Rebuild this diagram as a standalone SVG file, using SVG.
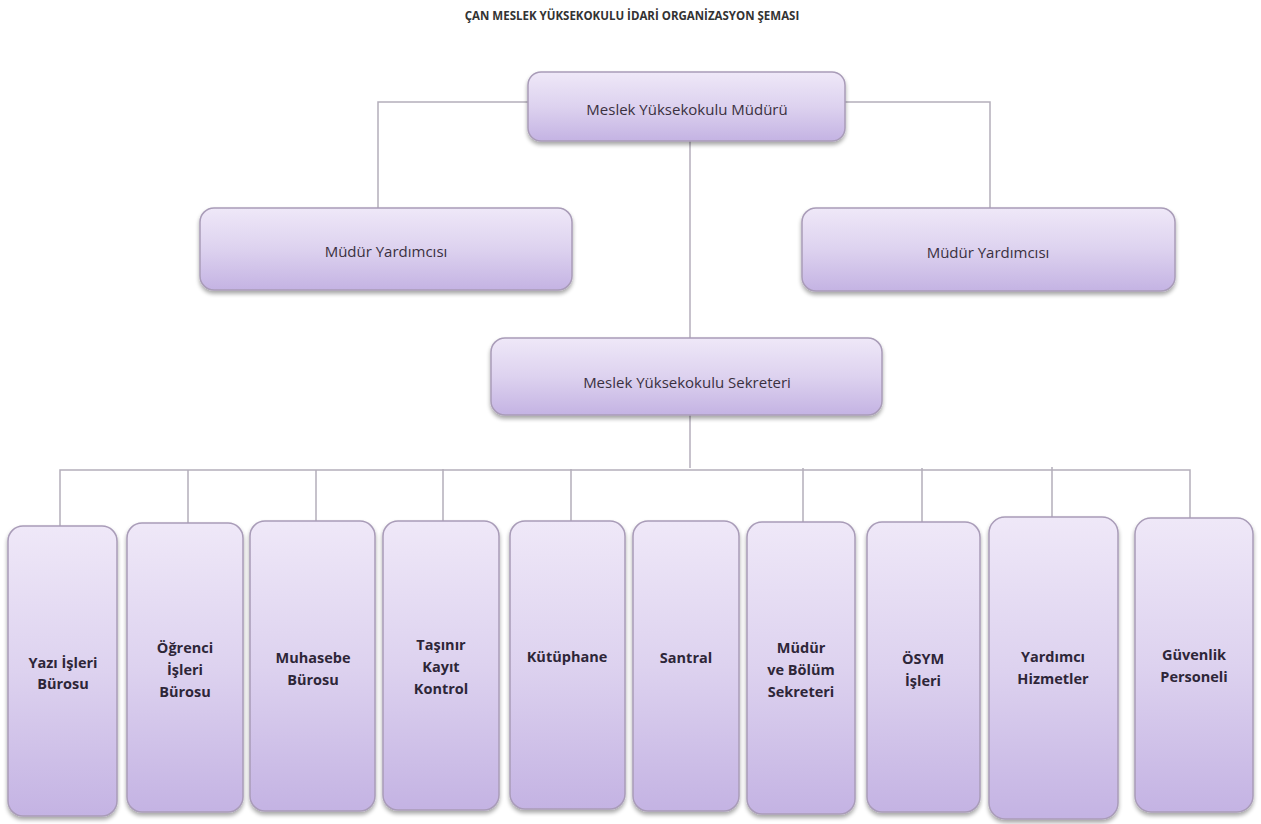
<svg xmlns="http://www.w3.org/2000/svg" width="1261" height="824" viewBox="0 0 1261 824">
<defs>
<linearGradient id="g" x1="0" y1="0" x2="0" y2="1">
<stop offset="0" stop-color="#efe8f8"/>
<stop offset="0.5" stop-color="#ddd2ef"/>
<stop offset="1" stop-color="#c4b3e3"/>
</linearGradient>
<filter id="sh" x="-10%" y="-10%" width="120%" height="125%">
<feGaussianBlur in="SourceAlpha" stdDeviation="2"/>
<feOffset dx="0" dy="3" result="b"/>
<feComponentTransfer><feFuncA type="linear" slope="0.35"/></feComponentTransfer>
<feMerge><feMergeNode/><feMergeNode in="SourceGraphic"/></feMerge>
</filter>
</defs>
<style>
.box{fill:url(#g);stroke:#a99cb8;stroke-width:1.5;filter:url(#sh)}
.t{font-family:"Open Sans","Liberation Sans",sans-serif;font-size:15px;fill:#3a3040;text-anchor:middle}
.b{font-family:"Open Sans","Liberation Sans",sans-serif;font-size:14.5px;font-weight:bold;fill:#2e2638;text-anchor:middle}
.title{font-family:"Open Sans","Liberation Sans",sans-serif;font-size:11.5px;font-weight:bold;fill:#333;text-anchor:middle}
.c{stroke:#b4aebb;stroke-width:1.5;fill:none}
</style>
<rect width="1261" height="824" fill="#ffffff"/>
<text class="title" x="632" y="20">ÇAN MESLEK YÜKSEKOKULU İDARİ ORGANİZASYON ŞEMASI</text>
<g id="connectors">
<path class="c" d="M378 208 V102 H528 M845 102 H990 V208"/>
<path class="c" d="M690 141 V338"/>
<path class="c" d="M690 415 V468"/>
<path class="c" d="M60 526 V470 H1190 V518"/>
<path class="c" d="M188 470 V523 M316 470 V521 M443 469 V521 M571 469 V521 M803 468 V522 M922 468 V522 M1052 467 V517"/>
</g>
<g id="n-mudur"><rect class="box" x="528" y="72" width="317" height="69" rx="13"/><text class="t" x="687" y="115">Meslek Yüksekokulu Müdürü</text></g>
<g id="n-yard1"><rect class="box" x="200" y="208" width="372" height="82" rx="14"/><text class="t" x="386" y="257">Müdür Yardımcısı</text></g>
<g id="n-yard2"><rect class="box" x="802" y="208" width="373" height="83" rx="14"/><text class="t" x="988" y="258">Müdür Yardımcısı</text></g>
<g id="n-sekreter"><rect class="box" x="491" y="338" width="391" height="77" rx="14"/><text class="t" x="687" y="388">Meslek Yüksekokulu Sekreteri</text></g>
<g id="n1"><rect class="box" x="8" y="526" width="109" height="290" rx="15"/><text class="b" x="63" y="668">Yazı İşleri</text><text class="b" x="63" y="689">Bürosu</text></g>
<g id="n2"><rect class="box" x="127" y="523" width="116" height="289" rx="15"/><text class="b" x="185" y="653">Öğrenci</text><text class="b" x="185" y="675">İşleri</text><text class="b" x="185" y="697">Bürosu</text></g>
<g id="n3"><rect class="box" x="250" y="521" width="125" height="290" rx="15"/><text class="b" x="313" y="663">Muhasebe</text><text class="b" x="313" y="685">Bürosu</text></g>
<g id="n4"><rect class="box" x="383" y="521" width="116" height="289" rx="15"/><text class="b" x="441" y="650">Taşınır</text><text class="b" x="441" y="672">Kayıt</text><text class="b" x="441" y="694">Kontrol</text></g>
<g id="n5"><rect class="box" x="510" y="521" width="115" height="288" rx="15"/><text class="b" x="567" y="662">Kütüphane</text></g>
<g id="n6"><rect class="box" x="633" y="521" width="106" height="290" rx="15"/><text class="b" x="686" y="663">Santral</text></g>
<g id="n7"><rect class="box" x="747" y="522" width="108" height="292" rx="15"/><text class="b" x="801" y="653">Müdür</text><text class="b" x="801" y="675">ve Bölüm</text><text class="b" x="801" y="697">Sekreteri</text></g>
<g id="n8"><rect class="box" x="867" y="522" width="113" height="290" rx="15"/><text class="b" x="923" y="664">ÖSYM</text><text class="b" x="923" y="686">İşleri</text></g>
<g id="n9"><rect class="box" x="989" y="517" width="129" height="302" rx="16"/><text class="b" x="1053" y="662">Yardımcı</text><text class="b" x="1053" y="684">Hizmetler</text></g>
<g id="n10"><rect class="box" x="1135" y="518" width="118" height="294" rx="16"/><text class="b" x="1194" y="660">Güvenlik</text><text class="b" x="1194" y="682">Personeli</text></g>
</svg>
